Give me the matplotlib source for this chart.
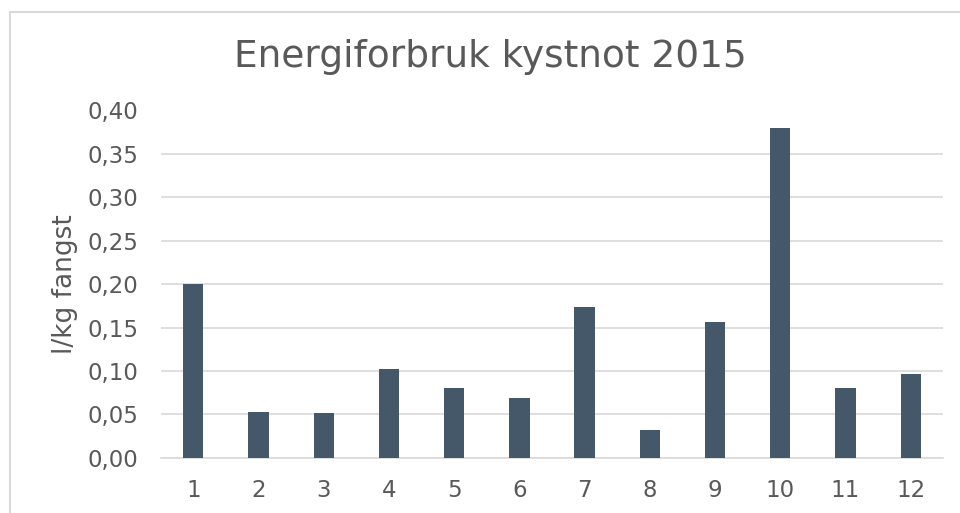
import matplotlib
matplotlib.use("Agg")
import matplotlib.pyplot as plt
from matplotlib.patches import Rectangle
from matplotlib.ticker import FuncFormatter, MultipleLocator

categories = ["1", "2", "3", "4", "5", "6", "7", "8", "9", "10", "11", "12"]
values = [0.200, 0.053, 0.052, 0.102, 0.080, 0.069, 0.174, 0.032, 0.156, 0.380, 0.080, 0.096]
title = "Energiforbruk kystnot 2015"
ylabel = "l/kg fangst"

text_color = "#595959"
bar_color = "#44586A"
grid_color = "#D9D9D9"

fig = plt.figure(figsize=(9.6, 5.13), dpi=100)
fig.patches.append(Rectangle((10/960, -0.1), 1.2, (513-12)/513 + 0.1, transform=fig.transFigure,
                             fill=False, edgecolor="#D9D9D9", linewidth=1.5))

ax = fig.add_axes([160.7/960, 1-457.7/513, (943.3-160.7)/960, (457.7-110.5)/513])
x = range(len(categories))
ax.bar(x, values, width=0.31, color=bar_color, zorder=3)
ax.set_xlim(-0.5, len(categories)-0.5)
ax.set_ylim(0, 0.40)
ax.yaxis.set_major_locator(MultipleLocator(0.05))
ax.yaxis.set_major_formatter(FuncFormatter(lambda v, p: f"{v:.2f}".replace(".", ",")))
ax.set_xticks(list(x))
ax.set_xticklabels(categories)
ax.grid(axis="y", color=grid_color, linewidth=1.2, zorder=0)
for s in ["top", "right", "left"]:
    ax.spines[s].set_visible(False)
ax.spines["bottom"].set_color(grid_color)
ax.spines["bottom"].set_linewidth(1.2)
ax.tick_params(axis="both", length=0, labelsize=16.5, colors=text_color)
ax.tick_params(axis="y", pad=16)
ax.tick_params(axis="x", pad=15)
ax.set_ylabel(ylabel, fontsize=19, color=text_color, labelpad=7)
fig.text(490/960, 1-57/513, title, fontsize=27, color=text_color, ha="center", va="center")

fig.savefig("out.png", dpi=100)
